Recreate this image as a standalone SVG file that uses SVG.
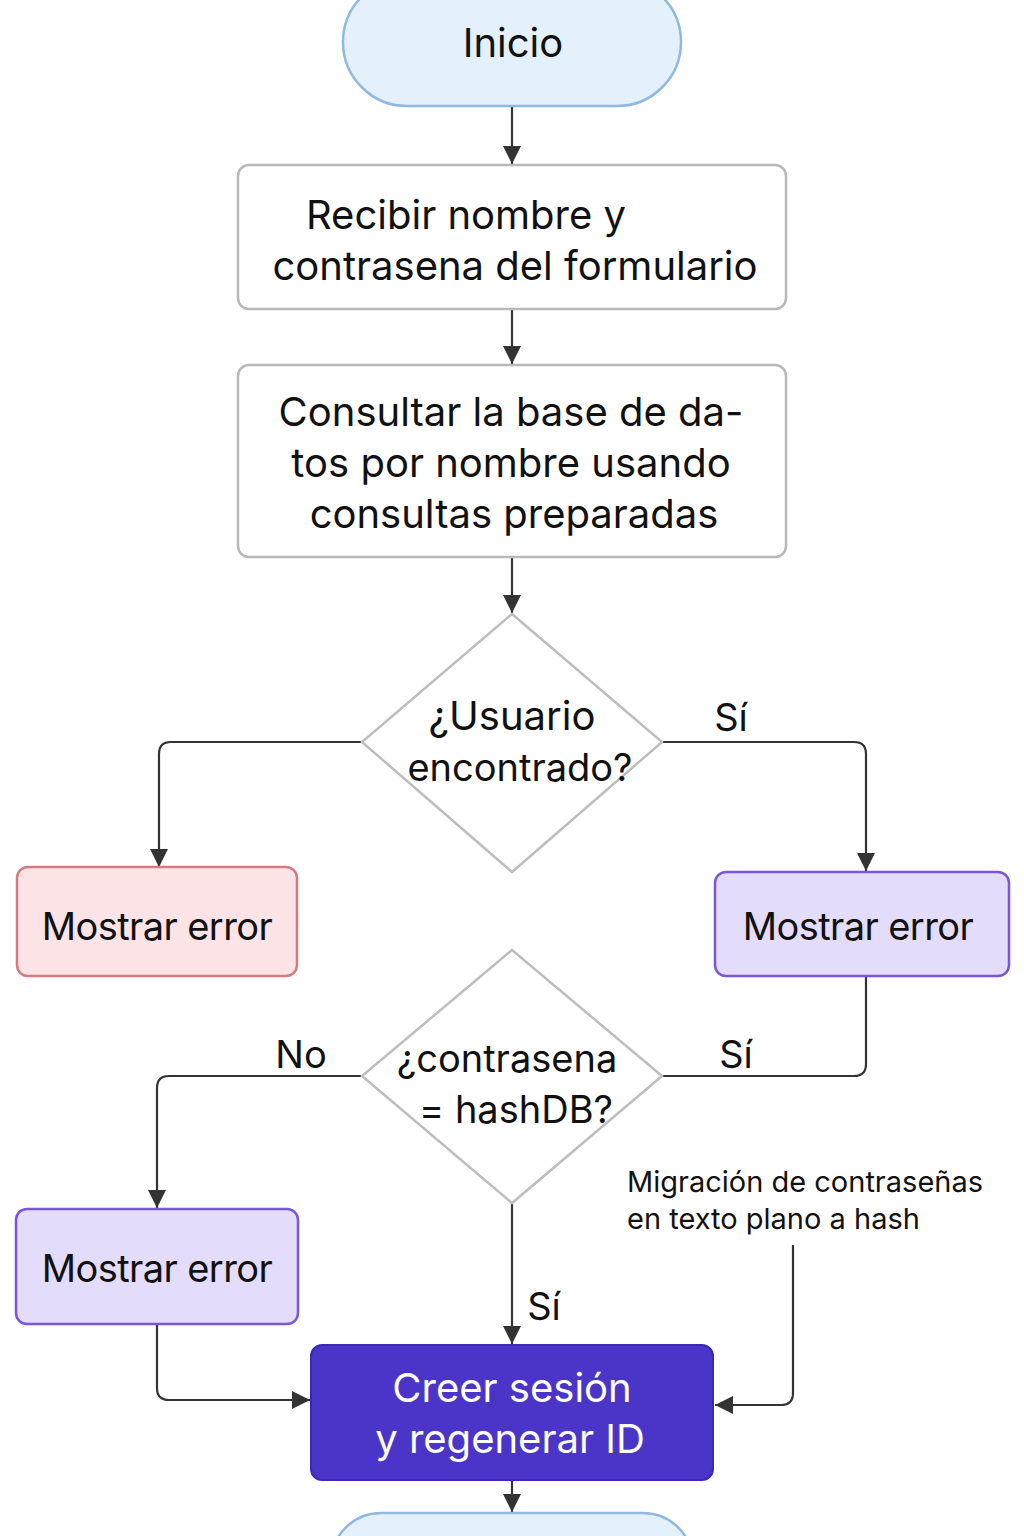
<svg xmlns="http://www.w3.org/2000/svg" width="1024" height="1536" viewBox="0 0 1024 1536">
<defs>
<style>
.t{font-family:Inter,"Liberation Sans",sans-serif;font-size:40px;fill:#111;text-anchor:middle}
.me{font-size:38px;letter-spacing:-0.6px}
.dt{font-size:38px}
.lbl{font-family:Inter,"Liberation Sans",sans-serif;font-size:38px;fill:#111;text-anchor:middle}
.ann{font-family:Inter,"Liberation Sans",sans-serif;font-size:29px;fill:#111}
.w{fill:#fff}
.term{fill:#e4f1fc;stroke:#8fb9dd;stroke-width:2.5}
.proc{fill:#fff;stroke:#b8b8b8;stroke-width:2.5}
.dec{fill:#fff;stroke:#bdbdbd;stroke-width:2.5}
.c{fill:none;stroke:#333;stroke-width:2.2}
</style>
<marker id="ah" viewBox="0 0 10 10" refX="10" refY="5" markerWidth="18" markerHeight="18" markerUnits="userSpaceOnUse" orient="auto">
<path d="M0,0 L10,5 L0,10 z" fill="#333"/>
</marker>
</defs>

<g id="connectors">
<path class="c" d="M512,106 V164" marker-end="url(#ah)"/>
<path class="c" d="M512,309 V364" marker-end="url(#ah)"/>
<path class="c" d="M512,557 V613" marker-end="url(#ah)"/>
<path class="c" d="M362,742 H171 Q159,742 159,754 V867" marker-end="url(#ah)"/>
<path class="c" d="M662,742 H854 Q866,742 866,754 V871" marker-end="url(#ah)"/>
<path class="c" d="M866,976 V1064 Q866,1076 854,1076 H662"/>
<path class="c" d="M362,1076 H169 Q157,1076 157,1088 V1208" marker-end="url(#ah)"/>
<path class="c" d="M157,1324 V1388 Q157,1400 169,1400 H310" marker-end="url(#ah)"/>
<path class="c" d="M512,1203 V1344" marker-end="url(#ah)"/>
<path class="c" d="M793,1245 V1393 Q793,1405 781,1405 H715" marker-end="url(#ah)"/>
<path class="c" d="M512,1480 V1512" marker-end="url(#ah)"/>
<text class="lbl" x="731" y="731">Sí</text>
<text class="lbl" x="736" y="1068">Sí</text>
<text class="lbl" x="301" y="1068">No</text>
<text class="lbl" x="544" y="1320">Sí</text>
</g>

<g id="inicio">
<rect class="term" x="343" y="-22" width="338" height="128" rx="64"/>
<text class="t" x="513" y="57">Inicio</text>
</g>

<g id="recibir">
<rect class="proc" x="238" y="165" width="548" height="144" rx="11"/>
<text class="t" x="466" y="229">Recibir nombre y</text>
<text class="t" x="515" y="280">contrasena del formulario</text>
</g>

<g id="consultar">
<rect class="proc" x="238" y="365" width="548" height="192" rx="11"/>
<text class="t" x="511" y="426">Consultar la base de da-</text>
<text class="t" x="511" y="477">tos por nombre usando</text>
<text class="t" x="514" y="528">consultas preparadas</text>
</g>

<g id="usuario">
<path class="dec" d="M512,614 L662,742 L512,872 L362,742 Z"/>
<text class="t" x="512" y="730">¿Usuario</text>
<text class="t dt" x="520" y="781">encontrado?</text>
</g>

<g id="error1">
<rect x="17" y="867" width="280" height="109" rx="11" fill="#fbe3e6" stroke="#d47c82" stroke-width="2.5"/>
<text class="t me" x="157" y="940">Mostrar error</text>
</g>

<g id="error2">
<rect x="715" y="872" width="294" height="104" rx="11" fill="#e4dcfb" stroke="#7a56dc" stroke-width="2.5"/>
<text class="t me" x="858" y="940">Mostrar error</text>
</g>

<g id="contrasena">
<path class="dec" d="M512,950 L662,1076 L512,1203 L362,1076 Z"/>
<text class="t dt" x="507" y="1072">¿contrasena</text>
<text class="t dt" x="516" y="1123">= hashDB?</text>
</g>

<g id="error3">
<rect x="16" y="1209" width="282" height="115" rx="11" fill="#e4dcfb" stroke="#7a56dc" stroke-width="2.5"/>
<text class="t me" x="157" y="1282">Mostrar error</text>
</g>

<g id="nota">
<text class="ann" x="627" y="1192">Migración de contraseñas</text>
<text class="ann" x="627" y="1229">en texto plano a hash</text>
</g>

<g id="sesion">
<rect x="311" y="1345" width="402" height="135" rx="11" fill="#4b35c9" stroke="#3b29b3" stroke-width="2"/>
<text class="t w" x="512" y="1402">Creer sesión</text>
<text class="t w" x="510" y="1453">y regenerar ID</text>
</g>

<g id="fin">
<rect class="term" x="331" y="1513" width="362" height="128" rx="50"/>
</g>
</svg>
